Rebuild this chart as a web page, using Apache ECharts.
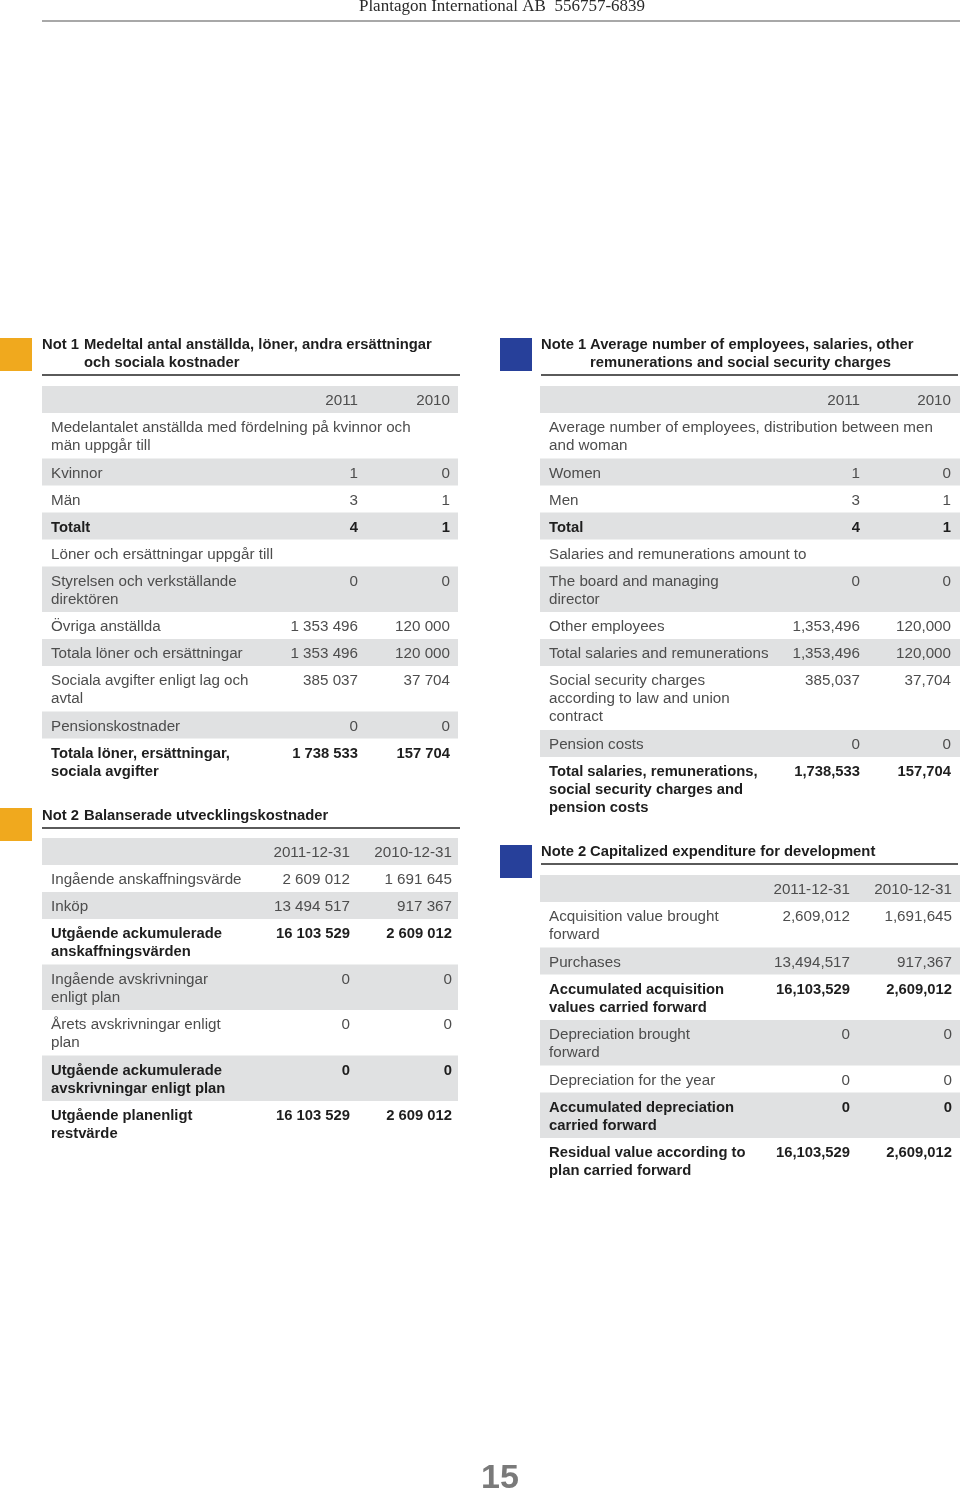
<!DOCTYPE html>
<html><head><meta charset="utf-8">
<script src="https://cdn.jsdelivr.net/npm/echarts@6/dist/echarts.min.js"></script>
<style>html,body{margin:0;padding:0;background:#fff}#c{width:960px;height:1492px}</style>
</head><body><div id="c"></div>
<script>
// ---------- DATA ----------
const pageHeader = 'Plantagon International AB  556757-6839';
const pageNumber = '15';

const note1TitleSv = ['Medeltal antal anställda, löner, andra ersättningar', 'och sociala kostnader'];
const note1TitleEn = ['Average number of employees, salaries, other', 'remunerations and social security charges'];
const note2TitleSv = ['Balanserade utvecklingskostnader'];
const note2TitleEn = ['Capitalized expenditure for development'];

const note1Cols = ['2011', '2010'];
const note2Cols = ['2011-12-31', '2010-12-31'];

const note1LabelsSv = [
  'Medelantalet anställda med fördelning på kvinnor och\nmän uppgår till',
  'Kvinnor', 'Män', 'Totalt', 'Löner och ersättningar uppgår till',
  'Styrelsen och verkställande\ndirektören', 'Övriga anställda', 'Totala löner och ersättningar',
  'Sociala avgifter enligt lag och\navtal', 'Pensionskostnader', 'Totala löner, ersättningar,\nsociala avgifter'
];
const note1LabelsEn = [
  'Average number of employees, distribution between men\nand woman',
  'Women', 'Men', 'Total', 'Salaries and remunerations amount to',
  'The board and managing\ndirector', 'Other employees', 'Total salaries and remunerations',
  'Social security charges\naccording to law and union\ncontract', 'Pension costs',
  'Total salaries, remunerations,\nsocial security charges and\npension costs'
];
const note1Values2011 = [null, 1, 3, 4, null, 0, 1353496, 1353496, 385037, 0, 1738533];
const note1Values2010 = [null, 0, 1, 1, null, 0, 120000, 120000, 37704, 0, 157704];
const note1TotalRows = [3, 10];

const note2LabelsSv = [
  'Ingående anskaffningsvärde', 'Inköp', 'Utgående ackumulerade\nanskaffningsvärden',
  'Ingående avskrivningar\nenligt plan', 'Årets avskrivningar enligt\nplan',
  'Utgående ackumulerade\navskrivningar enligt plan', 'Utgående planenligt\nrestvärde'
];
const note2LabelsEn = [
  'Acquisition value brought\nforward', 'Purchases', 'Accumulated acquisition\nvalues carried forward',
  'Depreciation brought\nforward', 'Depreciation for the year',
  'Accumulated depreciation\ncarried forward', 'Residual value according to\nplan carried forward'
];
const note2Values2011 = [2609012, 13494517, 16103529, 0, 0, 0, 16103529];
const note2Values2010 = [1691645, 917367, 2609012, 0, 0, 0, 2609012];
const note2TotalRows = [2, 5, 6];

// ---------- LAYOUT / STYLE ----------
const ORANGE = '#F0A91E', BLUE = '#27409A', ROWGRAY = '#E0E1E2';
const LIGHT = '#4d4d4d', DARK = '#1e1e1e';
const FONT = '"Liberation Sans", Arial, Helvetica, sans-serif';
const els = [];

function fmtSv(v) { return v == null ? '' : String(v).replace(/\B(?=(\d{3})+(?!\d))/g, ' '); }
function fmtEn(v) { return v == null ? '' : String(v).replace(/\B(?=(\d{3})+(?!\d))/g, ','); }

function txt(t, x, y, opt) {
  opt = opt || {};
  els.push({
    type: 'text', silent: true,
    style: {
      text: t, x: x, y: y,
      fill: opt.fill || LIGHT,
      font: opt.font || ('15.2px ' + FONT),
      align: opt.align || 'left', textAlign: opt.align || 'left',
      verticalAlign: 'middle', textVerticalAlign: 'middle'
    }
  });
}
function rect(x, y, w, h, fill) {
  els.push({ type: 'rect', silent: true, shape: { x: x, y: y, width: w, height: h }, style: { fill: fill } });
}

function title(sq, sqX, sqY, prefix, lines, x, lineEnd, y) {
  rect(sqX, sqY, 32, 33, sq);
  const f = 'bold 14.8px ' + FONT;
  const indent = prefix.length === 5 ? 42 : 49;
  txt(prefix, x, y + 1, { font: f, fill: DARK });
  lines.forEach((l, i) => txt(l, x + indent, y + 1 + i * 18, { font: f, fill: DARK }));
  const uy = y + (lines.length - 1) * 18 + 12;
  rect(x, uy, lineEnd - x, 2, '#5a5a5a');
}

function table(c) {
  let top = c.top;
  const width = c.x1 - c.x0;
  // header row
  rect(c.x0, top, width, 27, ROWGRAY);
  txt(c.cols[0], c.r1, top + 14.5, { align: 'right' });
  txt(c.cols[1], c.r2, top + 14.5, { align: 'right' });
  top += 27;
  c.labels.forEach((lab, i) => {
    const lines = lab.split('\n');
    const h = 27 + 18.5 * (lines.length - 1);
    if (i % 2 === 1) rect(c.x0, top, width, h, ROWGRAY);
    const bold = c.totals.indexOf(i) >= 0;
    const o = bold ? { font: 'bold 14.8px ' + FONT, fill: DARK } : {};
    lines.forEach((l, k) => txt(l, c.x0 + 9, top + 15 + k * 18, o));
    txt(c.fmt(c.v1[i]), c.r1, top + 15, Object.assign({ align: 'right' }, o));
    txt(c.fmt(c.v2[i]), c.r2, top + 15, Object.assign({ align: 'right' }, o));
    top += h;
  });
}

// header
txt(pageHeader, 502, 7, { font: '17px "Liberation Serif", "Times New Roman", serif', fill: '#2a2a2a', align: 'center' });
rect(42, 20, 918, 2, '#a8a8a8');

// Left Not 1
title(ORANGE, 0, 338, 'Not 1', note1TitleSv, 42, 460, 344);
table({ x0: 42, x1: 458, top: 386, r1: 358, r2: 450, cols: note1Cols, labels: note1LabelsSv,
  v1: note1Values2011, v2: note1Values2010, totals: note1TotalRows, fmt: fmtSv });
// Right Note 1
title(BLUE, 500, 338, 'Note 1', note1TitleEn, 541, 958, 344);
table({ x0: 540, x1: 960, top: 386, r1: 860, r2: 951, cols: note1Cols, labels: note1LabelsEn,
  v1: note1Values2011, v2: note1Values2010, totals: note1TotalRows, fmt: fmtEn });

// Left Not 2
title(ORANGE, 0, 808, 'Not 2', note2TitleSv, 42, 460, 815);
table({ x0: 42, x1: 458, top: 838, r1: 350, r2: 452, cols: note2Cols, labels: note2LabelsSv,
  v1: note2Values2011, v2: note2Values2010, totals: note2TotalRows, fmt: fmtSv });
// Right Note 2
title(BLUE, 500, 845, 'Note 2', note2TitleEn, 541, 958, 851);
table({ x0: 540, x1: 960, top: 875, r1: 850, r2: 952, cols: note2Cols, labels: note2LabelsEn,
  v1: note2Values2011, v2: note2Values2010, totals: note2TotalRows, fmt: fmtEn });

// page number
txt(pageNumber, 500, 1479, { font: 'bold 34px ' + FONT, fill: '#7a7a7a', align: 'center' });

const chart = echarts.init(document.getElementById('c'), null, { renderer: 'canvas' });
chart.setOption({ animation: false, graphic: { elements: els } });
</script></body></html>
